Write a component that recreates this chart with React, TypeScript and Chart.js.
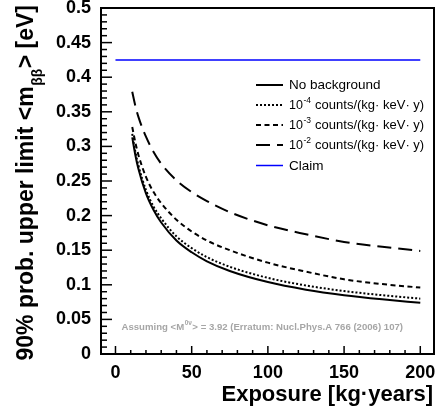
import React, { useEffect, useRef } from "react";
import { Chart, registerables } from "chart.js";

Chart.register(...registerables);

// ---- data ----
const exposure = [11, 13, 15, 20, 25, 30, 40, 50, 60, 75, 100, 125, 150, 175, 200];
const noBackground = [0.313, 0.288, 0.268, 0.232, 0.208, 0.19, 0.164, 0.147, 0.134, 0.12, 0.104, 0.093, 0.085, 0.079, 0.074];
const bkg1e4 = [0.318, 0.293, 0.273, 0.237, 0.213, 0.196, 0.17, 0.153, 0.14, 0.126, 0.11, 0.099, 0.091, 0.085, 0.08];
const bkg1e3 = [0.328, 0.306, 0.288, 0.256, 0.234, 0.218, 0.194, 0.177, 0.164, 0.15, 0.132, 0.119, 0.108, 0.101, 0.096];
const bkg1e2 = [0.379, 0.359, 0.343, 0.314, 0.292, 0.275, 0.251, 0.234, 0.221, 0.205, 0.186, 0.173, 0.162, 0.155, 0.149];
const claimExposure = [0, 200];
const claimValue = [0.425, 0.425];

const xTickValues = [0, 50, 100, 150, 200];
const yTickValues = [0, 0.05, 0.1, 0.15, 0.2, 0.25, 0.3, 0.35, 0.4, 0.45, 0.5];

const xTitle = "Exposure [kg\u00B7years]";
const yTitleMain = "90% prob. upper limit <m";
const yTitleSub = "\u03B2\u03B2";
const yTitleEnd = "> [eV]";
const legendEntries = [
  { base: "No background", sup: "", rest: "" },
  { base: "10", sup: "-4", rest: " counts/(kg\u00B7 keV\u00B7 y)" },
  { base: "10", sup: "-3", rest: " counts/(kg\u00B7 keV\u00B7 y)" },
  { base: "10", sup: "-2", rest: " counts/(kg\u00B7 keV\u00B7 y)" },
  { base: "Claim", sup: "", rest: "" },
];
const noteParts = { pre: "Assuming <M", sup: "0\u03BD", post: "> = 3.92 (Erratum: Nucl.Phys.A 766 (2006) 107)" };

const FONT = "'Liberation Sans', Arial, Helvetica, sans-serif";

const styles = [
  { color: "#000000", width: 2, dash: [] as number[] },
  { color: "#000000", width: 2, dash: [2, 2] },
  { color: "#000000", width: 2, dash: [5, 3.5] },
  { color: "#000000", width: 2, dash: [14, 7] },
  { color: "#0000ff", width: 1.5, dash: [] as number[] },
];

const series = [noBackground, bkg1e4, bkg1e3, bkg1e2];

const overlay = {
  id: "overlay",
  afterDatasetsDraw(chart: any) {
    const { ctx, chartArea: a, scales } = chart;
    const x = scales.x;
    const y = scales.y;
    ctx.save();
    // frame
    ctx.strokeStyle = "#000";
    ctx.lineWidth = 2;
    ctx.setLineDash([]);
    ctx.strokeRect(a.left, a.top, a.right - a.left, a.bottom - a.top);
    // y ticks
    ctx.lineWidth = 1.5;
    for (let i = 0; i <= 50; i++) {
      const py = y.getPixelForValue(i / 100);
      const len = i % 5 === 0 ? 11 : 6;
      ctx.beginPath();
      ctx.moveTo(a.left, py);
      ctx.lineTo(a.left + len, py);
      ctx.stroke();
    }
    // x ticks
    for (let v = 0; v <= 200; v += 10) {
      const px = x.getPixelForValue(v);
      const len = v % 50 === 0 ? 8 : 4;
      ctx.beginPath();
      ctx.moveTo(px, a.bottom);
      ctx.lineTo(px, a.bottom - len);
      ctx.stroke();
    }

    // legend
    const rowY = [85, 105, 125, 145, 165.5];
    legendEntries.forEach((e, i) => {
      const st = styles[i];
      ctx.strokeStyle = st.color;
      ctx.lineWidth = st.width;
      ctx.setLineDash(st.dash);
      ctx.beginPath();
      ctx.moveTo(256, rowY[i]);
      ctx.lineTo(283, rowY[i]);
      ctx.stroke();
      ctx.setLineDash([]);
      ctx.fillStyle = "#000";
      ctx.textBaseline = "middle";
      ctx.textAlign = "left";
      let tx = 289;
      if (!e.sup) {
        ctx.font = `13.5px ${FONT}`;
        ctx.fillText(e.base, tx, rowY[i] + 0.5);
      } else {
        ctx.font = `12.5px ${FONT}`;
        ctx.fillText(e.base, tx, rowY[i] + 0.5);
        tx += ctx.measureText(e.base).width;
        ctx.font = `8.5px ${FONT}`;
        ctx.fillText(e.sup, tx + 0.5, rowY[i] - 4.5);
        tx += ctx.measureText(e.sup).width + 1;
        ctx.font = `13px ${FONT}`;
        ctx.fillText(e.rest, tx, rowY[i] + 0.5);
      }
    });

    // note
    ctx.fillStyle = "#a6a6a6";
    ctx.textBaseline = "alphabetic";
    ctx.font = `bold 9.6px ${FONT}`;
    let nx = 121.5;
    const ny = 330;
    ctx.fillText(noteParts.pre, nx, ny);
    nx += ctx.measureText(noteParts.pre).width;
    ctx.font = `bold 6.5px ${FONT}`;
    ctx.fillText(noteParts.sup, nx + 0.5, ny - 5);
    nx += ctx.measureText(noteParts.sup).width + 1;
    ctx.font = `bold 9.6px ${FONT}`;
    ctx.fillText(noteParts.post, nx, ny);

    // x title
    ctx.fillStyle = "#000";
    ctx.font = `bold 22px ${FONT}`;
    ctx.textAlign = "right";
    ctx.fillText(xTitle, 433, 401);

    // y title (rotated)
    ctx.save();
    ctx.translate(33, 5);
    ctx.rotate(-Math.PI / 2);
    ctx.textAlign = "left";
    const fMain = `bold 23px ${FONT}`;
    const fSub = `bold 14px ${FONT}`;
    ctx.font = fMain;
    const w1 = ctx.measureText(yTitleMain).width;
    const w3 = ctx.measureText(yTitleEnd).width;
    ctx.font = fSub;
    const w2 = ctx.measureText(yTitleSub).width;
    let u = -(w1 + w2 + w3 + 1);
    ctx.font = fMain;
    ctx.fillText(yTitleMain, u, 0);
    u += w1;
    ctx.font = fSub;
    ctx.fillText(yTitleSub, u + 0.5, 9);
    u += w2 + 1;
    ctx.font = fMain;
    ctx.fillText(yTitleEnd, u, 0);
    ctx.restore();

    ctx.restore();
  },
};

export default function App() {
  const canvasRef = useRef<HTMLCanvasElement | null>(null);

  useEffect(() => {
    const canvas = canvasRef.current;
    if (!canvas) return;
    const tickFont = { family: FONT, weight: "bold" as const, size: 18 };
    const datasets: any[] = series.map((s, i) => ({
      data: exposure.map((e, k) => ({ x: e, y: s[k] })),
      borderColor: styles[i].color,
      borderWidth: styles[i].width,
      borderDash: styles[i].dash,
      cubicInterpolationMode: "monotone",
      pointRadius: 0,
      fill: false,
    }));
    datasets.push({
      data: claimExposure.map((e, k) => ({ x: e, y: claimValue[k] })),
      borderColor: styles[4].color,
      borderWidth: styles[4].width,
      pointRadius: 0,
      fill: false,
    });
    const chart = new Chart(canvas, {
      type: "line",
      data: { datasets },
      options: {
        responsive: false,
        animation: false,
        devicePixelRatio: 1,
        layout: { padding: { top: 8, right: 4, left: 0, bottom: 0 } },
        plugins: { legend: { display: false }, tooltip: { enabled: false } },
        scales: {
          x: {
            type: "linear",
            min: -9.5,
            max: 209,
            grid: { display: false, drawTicks: false },
            border: { display: false },
            afterBuildTicks: (s: any) => {
              s.ticks = xTickValues.map((v) => ({ value: v }));
            },
            afterFit: (s: any) => {
              s.height = 60;
              s.paddingLeft = 0;
              s.paddingRight = 0;
            },
            ticks: {
              padding: 8,
              font: tickFont,
              color: "#000",
              maxRotation: 0,
              autoSkip: false,
              callback: (v: any) => String(v),
            },
          },
          y: {
            type: "linear",
            min: 0,
            max: 0.5,
            grid: { display: false, drawTicks: false },
            border: { display: false },
            afterBuildTicks: (s: any) => {
              s.ticks = yTickValues.map((v) => ({ value: v }));
            },
            afterFit: (s: any) => {
              s.width = 101;
              s.paddingTop = 0;
              s.paddingBottom = 0;
            },
            ticks: {
              padding: 10,
              font: tickFont,
              color: "#000",
              autoSkip: false,
              callback: (v: any) => String(+Number(v).toFixed(2)),
            },
          },
        },
      },
      plugins: [overlay],
    });
    return () => chart.destroy();
  }, []);

  return (
    <div style={{ position: "fixed", left: 0, top: 0, width: 438, height: 414, background: "#fff" }}>
      <canvas ref={canvasRef} width={438} height={414} />
    </div>
  );
}
